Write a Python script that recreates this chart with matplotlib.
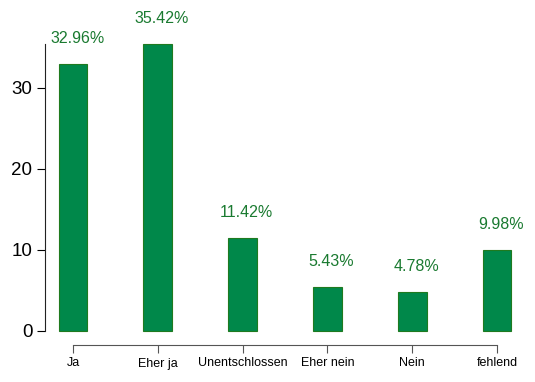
import numpy as np
import matplotlib
matplotlib.use('Agg')
import matplotlib.pyplot as plt

categories = ['Ja', 'Eher ja', 'Unentschlossen', 'Eher nein', 'Nein', 'fehlend']
percent = [32.96, 35.42, 11.42, 5.43, 4.78, 9.98]
yticks = [0, 10, 20, 30]

plt.rcParams['font.family'] = ['Liberation Sans', 'DejaVu Sans']

fig = plt.figure(figsize=(5.35, 3.82), dpi=100)
ax = fig.add_axes([45/535, 37/382, 485/535, 335/382])

x = np.arange(len(categories))
ax.bar(x, percent, width=0.34, color='#00884a', edgecolor='#1f7a1f', linewidth=0.8)

# percentage labels above bars
for xi, v in zip(x, percent):
    ax.text(xi + 0.05, v + 3.2, f'{v:.2f}%', ha='center', va='center',
            fontsize=11.5, color='#1a7a30')

ax.set_xlim(-0.33, 5.39)
ax.set_ylim(-1.73, 39.63)

# R-style detached axes
for s in ['top', 'right']:
    ax.spines[s].set_visible(False)
ax.spines['left'].set_bounds(0, max(percent))
ax.spines['bottom'].set_bounds(0, len(categories) - 1)
ax.spines['left'].set_color('#222222')
ax.spines['bottom'].set_color('#555555')

ax.set_yticks(yticks)
ax.tick_params(axis='y', labelsize=13.5, length=6, pad=3)
ax.set_xticks(x)
ax.set_xticklabels(categories)
ax.tick_params(axis='x', labelsize=9, length=6, pad=3, color='#555555')

fig.savefig('out.png', dpi=100)
